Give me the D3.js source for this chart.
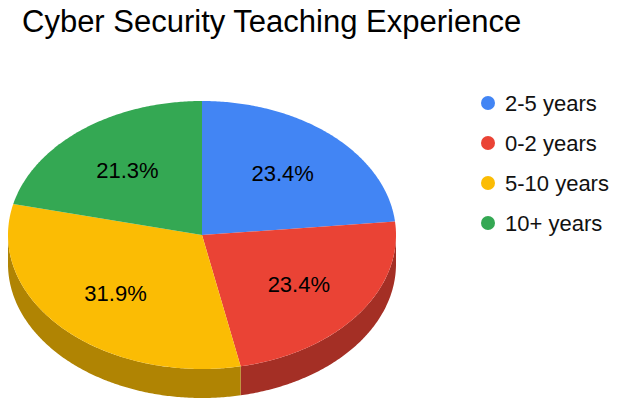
<!DOCTYPE html>
<html>
<head>
<meta charset="utf-8">
<script src="https://cdn.jsdelivr.net/npm/d3@7"></script>
<style>
  body { margin: 0; background: #fff; }
  text { font-family: Arial, "Liberation Sans", sans-serif; }
</style>
</head>
<body>
<svg id="chart" width="624" height="408"></svg>
<script>
// responses per category (47 in total)
var categories = ["2-5 years", "0-2 years", "5-10 years", "10+ years"];
var counts = [11, 11, 15, 10];
var colors = ["#4285F4", "#EA4335", "#FBBC04", "#34A853"];

var svg = d3.select("#chart");

// pie geometry (ellipse, tilted)
var cx = 202, cy = 235, rx = 194, ry = 134, depth = 29;

var total = d3.sum(counts);
var pie = d3.pie().sort(null).value(function(d){ return d.value; });
var slices = pie(categories.map(function(c, i){
    return {name: c, value: counts[i], color: colors[i]};
}));

// angle measured clockwise from 12 o'clock, same as d3.pie
function px(a, k){ return cx + rx * (k || 1) * Math.sin(a); }
function py(a, k){ return cy - ry * (k || 1) * Math.cos(a); }

function arcPoints(a0, a1, dy){
    var n = Math.max(2, Math.ceil((a1 - a0) / 0.01));
    var pts = [];
    for(var i = 0; i <= n; i++){
        var a = a0 + (a1 - a0) * i / n;
        pts.push([px(a), py(a) + (dy || 0)]);
    }
    return pts;
}

var line = d3.line();

// side walls: only the part facing the viewer (between 90 and 270 deg)
var sides = svg.append("g");
slices.forEach(function(s){
    var a0 = Math.max(s.startAngle, Math.PI / 2);
    var a1 = Math.min(s.endAngle, Math.PI * 1.5);
    if(a1 <= a0) return;
    var pts = arcPoints(a0, a1, 0).concat(arcPoints(a0, a1, depth).reverse());
    sides.append("path")
        .attr("d", line(pts) + "Z")
        .attr("fill", d3.rgb(s.data.color).darker(1));
});

// top faces
var tops = svg.append("g");
slices.forEach(function(s){
    var pts = [[cx, cy]].concat(arcPoints(s.startAngle, s.endAngle, 0));
    tops.append("path")
        .attr("d", line(pts) + "Z")
        .attr("fill", s.data.color);
});

// percentage labels
var fmt = d3.format(".1%");
slices.forEach(function(s){
    var mid = (s.startAngle + s.endAngle) / 2;
    svg.append("text")
        .attr("x", px(mid, 0.62))
        .attr("y", py(mid, 0.62))
        .attr("dy", "0.36em")
        .attr("text-anchor", "middle")
        .attr("font-size", 22)
        .attr("fill", "#000")
        .text(fmt(s.data.value / total));
});

// title
svg.append("text")
    .attr("x", 22)
    .attr("y", 32)
    .attr("font-size", 31)
    .attr("fill", "#000")
    .text("Cyber Security Teaching Experience");

// legend
var legend = svg.append("g").selectAll("g")
    .data(slices)
    .enter().append("g")
    .attr("transform", function(d, i){ return "translate(488," + (103 + i * 40) + ")"; });

legend.append("circle")
    .attr("r", 7)
    .attr("fill", function(d){ return d.data.color; });

legend.append("text")
    .attr("x", 17)
    .attr("dy", "0.36em")
    .attr("font-size", 22)
    .attr("fill", "#111")
    .text(function(d){ return d.data.name; });
</script>
</body>
</html>
